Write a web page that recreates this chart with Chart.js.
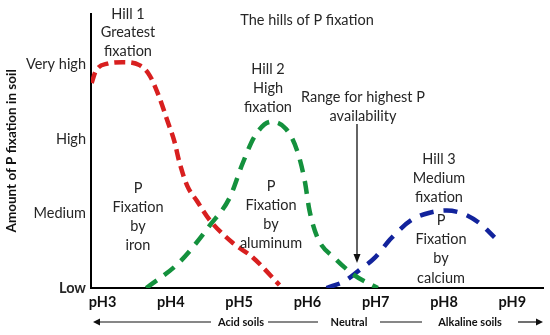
<!DOCTYPE html>
<html lang="en">
<head>
<meta charset="UTF-8">
<title>The hills of P fixation</title>
<script src="https://cdn.jsdelivr.net/npm/chart.js"></script>
<style>
    html, body { margin: 0; padding: 0; background: #fff; }
    #wrap { width: 550px; height: 335px; }
</style>
</head>
<body>
<div id="wrap"><canvas id="myChart"></canvas></div>
<script>
// levels on the y axis and pH ticks on the x axis
const levelLabels = ['Low', 'Medium', 'High', 'Very high'];
const phTicks = [3, 4, 5, 6, 7, 8, 9];
const phLabels = ['pH3', 'pH4', 'pH5', 'pH6', 'pH7', 'pH8', 'pH9'];

// hill 1 - fixation by iron (red)
const ironPh  = [2.84, 2.9, 3.07, 3.29, 3.54, 3.69, 3.83, 3.95, 4.05, 4.13, 4.24, 4.38, 4.57, 4.9, 5.2, 5.59];
const ironFix = [2.75, 2.91, 3.01, 3.03, 2.99, 2.85, 2.56, 2.24, 1.97, 1.67, 1.37, 1.17, 0.91, 0.61, 0.41, 0.04];

// hill 2 - fixation by aluminum (green)
const aluPh  = [3.64, 4.13, 4.57, 4.86, 5.05, 5.23, 5.47, 5.69, 5.85, 5.96, 6.03, 6.15, 6.4, 6.69, 7.03];
const aluFix = [0.0, 0.35, 0.84, 1.21, 1.67, 2.04, 2.23, 2.13, 1.84, 1.44, 1.04, 0.67, 0.4, 0.17, 0.0];

// hill 3 - fixation by calcium (blue)
const caPh  = [6.28, 6.54, 6.76, 6.98, 7.23, 7.52, 7.79, 8.04, 8.3, 8.52, 8.74];
const caFix = [0.0, 0.09, 0.24, 0.4, 0.67, 0.91, 1.01, 1.04, 0.99, 0.87, 0.68];

function toPoints(xs, ys){
    return xs.map((x, i) => ({x: x, y: ys[i]}));
}

function makeSet(label, xs, ys, color, dash){
    return {
        label: label,
        data: toPoints(xs, ys),
        borderColor: color,
        borderWidth: 4.5,
        borderDash: dash,
        borderCapStyle: 'butt',
        pointRadius: 0,
        cubicInterpolationMode: 'monotone',
        fill: false
    };
}

const FONT = 'Lato, "Open Sans", sans-serif';

// text, arrows and notes drawn on top
const notesPlugin = {
    id: 'notes',
    afterDatasetsDraw(chart){
        const c = chart.ctx;
        c.save();
        c.fillStyle = '#262626';
        c.textAlign = 'center';
        c.textBaseline = 'middle';
        c.font = '14.5px ' + FONT;
        const block = (x, y, lines, gap) => {
            lines.forEach((t, i) => c.fillText(t, x, y + i * gap));
        };
        block(128, 14, ['Hill 1', 'Greatest', 'fixation'], 18.5);
        c.fillText('The hills of P fixation', 307, 20);
        block(268, 69, ['Hill 2', 'High', 'fixation'], 19);
        block(363, 97, ['Range for highest P', 'availability'], 19);
        block(439, 159, ['Hill 3', 'Medium', 'fixation'], 19);
        block(441, 220, ['P', 'Fixation', 'by', 'calcium'], 19.3);
        block(138, 188, ['P', 'Fixation', 'by', 'iron'], 19);
        block(271, 186, ['P', 'Fixation', 'by', 'aluminum'], 19);

        // arrow to the range for highest P availability
        c.strokeStyle = '#111';
        c.fillStyle = '#111';
        c.lineWidth = 1.3;
        c.beginPath();
        c.moveTo(357, 124);
        c.lineTo(357, 255);
        c.stroke();
        c.beginPath();
        c.moveTo(353.5, 254);
        c.lineTo(360.5, 254);
        c.lineTo(357, 263);
        c.closePath();
        c.fill();

        // soil reaction strip below the axis
        const yb = 322;
        c.font = 'bold 11px ' + FONT;
        c.fillText('Acid soils', 241, yb);
        c.fillText('Neutral', 349, yb);
        c.fillText('Alkaline soils', 470, yb);
        c.lineWidth = 1.2;
        [[96, 211], [268, 318], [380, 422], [518, 538]].forEach(s => {
            c.beginPath();
            c.moveTo(s[0], yb);
            c.lineTo(s[1], yb);
            c.stroke();
        });
        c.beginPath();
        c.moveTo(93, yb); c.lineTo(100, yb - 3.5); c.lineTo(100, yb + 3.5);
        c.closePath(); c.fill();
        c.beginPath();
        c.moveTo(543, yb); c.lineTo(536, yb - 3.5); c.lineTo(536, yb + 3.5);
        c.closePath(); c.fill();
        c.restore();
    }
};

const ctx = document.getElementById('myChart');
new Chart(ctx, {
    type: 'line',
    data: {
        datasets: [
            makeSet('Iron', ironPh, ironFix, '#d81f1f', [11, 6]),
            makeSet('Aluminum', aluPh, aluFix, '#14913d', [13, 9]),
            makeSet('Calcium', caPh, caFix, '#12239c', [14, 10])
        ]
    },
    options: {
        responsive: true,
        maintainAspectRatio: false,
        animation: false,
        layout: { padding: { top: 12, right: 7, left: 0, bottom: 0 } },
        plugins: { legend: { display: false }, tooltip: { enabled: false } },
        scales: {
            x: {
                type: 'linear',
                min: 2.83,
                max: 9.45,
                afterBuildTicks: (s) => { s.ticks = phTicks.map(v => ({value: v})); },
                afterFit: (s) => { s.height = 47; },
                grid: { display: false, drawTicks: false },
                border: { color: '#000', width: 2 },
                ticks: {
                    padding: 6,
                    color: '#111',
                    font: { family: FONT, size: 14.5, weight: 'bold' },
                    callback: (v) => phLabels[phTicks.indexOf(v)]
                }
            },
            y: {
                type: 'linear',
                min: 0,
                max: 3.68,
                afterBuildTicks: (s) => { s.ticks = [0, 1, 2, 3].map(v => ({value: v})); },
                afterFit: (s) => { s.width = 91; },
                grid: { display: false, drawTicks: false },
                border: { color: '#000', width: 2 },
                ticks: {
                    padding: 5,
                    color: '#262626',
                    font: (c) => ({ family: FONT, size: 14.5, weight: c.tick && c.tick.value === 0 ? 'bold' : 'normal' }),
                    callback: (v) => levelLabels[v]
                },
                title: {
                    display: true,
                    text: 'Amount of P fixation in soil',
                    color: '#111',
                    font: { family: FONT, size: 13.5, weight: 'bold' },
                    padding: { top: 4, bottom: 0 }
                }
            }
        }
    },
    plugins: [notesPlugin]
});
</script>
</body>
</html>
